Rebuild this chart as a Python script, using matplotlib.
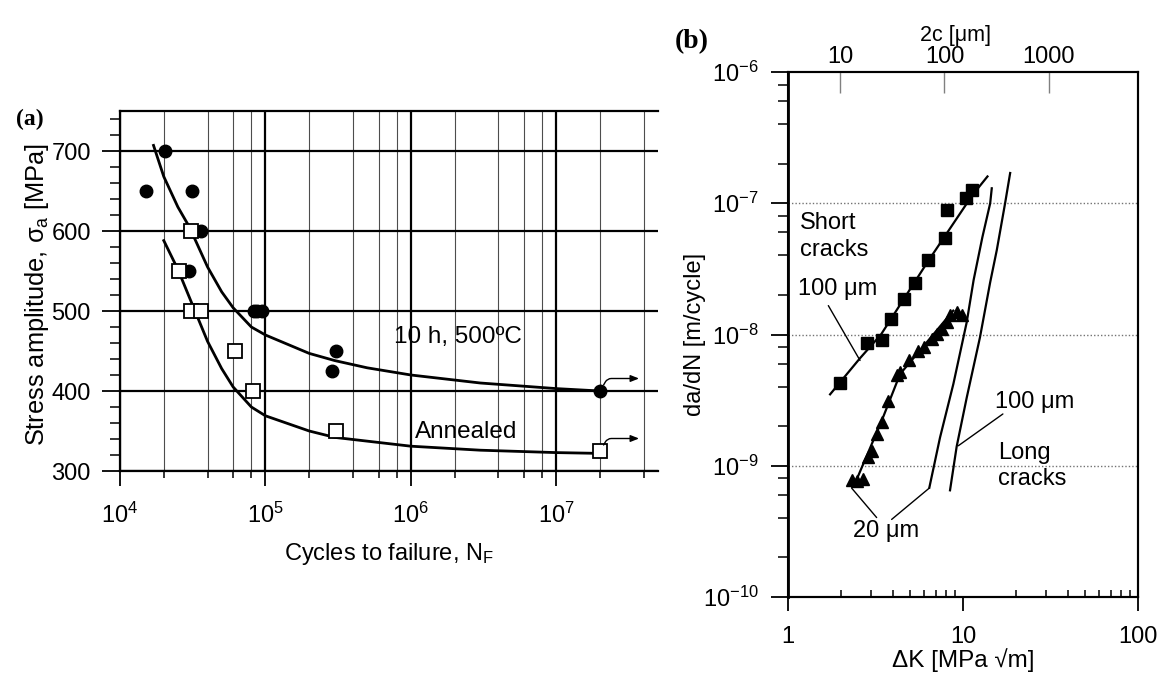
import matplotlib
matplotlib.use('Agg')
import matplotlib.pyplot as plt
from matplotlib.ticker import (LogLocator, MultipleLocator, FixedLocator,
                               NullFormatter, NullLocator, FixedFormatter)

plt.rcParams['font.family'] = ['Liberation Sans', 'DejaVu Sans']
plt.rcParams['mathtext.fontset'] = 'custom'
plt.rcParams['mathtext.rm'] = 'Liberation Sans'
plt.rcParams['mathtext.it'] = 'Liberation Sans:italic'
plt.rcParams['mathtext.bf'] = 'Liberation Sans:bold'
plt.rcParams['mathtext.sf'] = 'Liberation Sans'
plt.rcParams['axes.unicode_minus'] = False

FS = 17

# ---------------- (a) S-N data ----------------
hr_cycles = [1.52e4, 2.05e4, 3.12e4, 3.59e4, 2.98e4, 8.3e4, 8.8e4, 9.5e4, 3.05e5, 2.85e5]
hr_stress = [650, 700, 650, 600, 550, 500, 500, 500, 450, 425]
ann_cycles = [3.07e4, 2.55e4, 3.07e4, 3.63e4, 6.18e4, 8.2e4, 3.05e5]
ann_stress = [600, 550, 500, 500, 450, 400, 350]
runout_hr_cycles = [2.0e7]
runout_hr_stress = [400]
runout_ann_cycles = [2.0e7]
runout_ann_stress = [325]
hr_fit_cycles = [1.7e4, 2.0e4, 2.5e4, 3.0e4, 4.0e4, 5.0e4, 6.0e4, 8.0e4, 1.0e5,
                 2.0e5, 3.0e5, 5.0e5, 1.0e6, 3.0e6, 1.0e7, 2.0e7]
hr_fit_stress = [707, 668, 630, 605, 555, 524, 504, 480, 470,
                 447, 438, 429, 420, 410, 403, 400]
ann_fit_cycles = [2.0e4, 2.5e4, 3.0e4, 4.0e4, 5.0e4, 6.0e4, 8.0e4, 1.0e5,
                  2.0e5, 3.0e5, 1.0e6, 3.0e6, 1.0e7, 2.0e7]
ann_fit_stress = [588, 552, 517, 462, 428, 405, 380, 369,
                  350, 342, 331, 326, 323, 322]
a_xlim = (1e4, 5e7)
a_ylim = (300, 750)
a_yticks = [300, 400, 500, 600, 700]

# ---------------- (b) crack growth data ----------------
sq_dK = [1.98, 2.82, 3.43, 3.86, 4.6, 5.32, 6.28, 7.89, 8.07, 10.4, 11.3]
sq_dadN = [4.25e-9, 8.6e-9, 9.1e-9, 1.32e-8, 1.87e-8, 2.47e-8, 3.72e-8,
           5.43e-8, 8.95e-8, 1.09e-7, 1.26e-7]
tri_dK = [2.31, 2.47, 2.69, 2.88, 3.03, 3.21, 3.43, 3.74, 4.22, 4.37, 4.93,
          5.56, 5.99, 6.62, 7.13, 7.55, 8.07, 8.43, 9.2, 9.83]
tri_dadN = [7.8e-10, 7.6e-10, 7.9e-10, 1.16e-9, 1.3e-9, 1.75e-9, 2.14e-9,
            3.13e-9, 4.95e-9, 5.16e-9, 6.41e-9, 7.55e-9, 8.0e-9, 9.27e-9,
            1.01e-8, 1.1e-8, 1.24e-8, 1.4e-8, 1.48e-8, 1.4e-8]
sq_fit_dK = [1.74, 2.58, 3.4, 6.3, 11.3, 13.8]
sq_fit_dadN = [3.5e-9, 6.6e-9, 1.0e-8, 3.6e-8, 1.15e-7, 1.6e-7]
tri_fit_dK = [2.4, 3.43, 4.37, 5.67, 8.8]
tri_fit_dadN = [7.2e-10, 2.2e-9, 5.0e-9, 7.55e-9, 1.52e-8]
long20_dK = [6.42, 7.39, 8.81, 10.5, 11.5, 12.9, 14.3, 14.6]
long20_dadN = [6.8e-10, 1.64e-9, 4.2e-9, 1.24e-8, 2.6e-8, 5.5e-8, 1.0e-7, 1.3e-7]
long100_dK = [8.43, 9.2, 10.5, 12.5, 14.3, 15.6, 17.4, 18.6]
long100_dadN = [6.5e-10, 1.4e-9, 3.3e-9, 9.5e-9, 2.5e-8, 4.4e-8, 1.0e-7, 1.7e-7]
b_xlim = (1, 100)
b_ylim = (1e-10, 1e-6)
b_grid_levels = [1e-9, 1e-8, 1e-7]
top_lim = (3.18, 7110)
top_ticks = [10, 100, 1000]
top_labels = ['10', '100', '1000']

W, H = 1165, 686
fig = plt.figure(figsize=(W / 100, H / 100), dpi=100)

# ======================= panel (a) =======================
axA = fig.add_axes([120 / W, 1 - 471 / H, 538 / W, 360 / H])
axA.set_xscale('log')
axA.set_xlim(*a_xlim)
axA.set_ylim(*a_ylim)
axA.set_axisbelow(True)
axA.xaxis.set_major_locator(LogLocator(base=10, numticks=10))
axA.xaxis.set_minor_locator(LogLocator(base=10, subs=[2, 4, 6, 8], numticks=10))
axA.xaxis.set_minor_formatter(NullFormatter())
axA.yaxis.set_major_locator(FixedLocator(a_yticks))
axA.yaxis.set_minor_locator(MultipleLocator(20))
axA.grid(which='major', axis='both', color='black', lw=1.6)
axA.grid(which='minor', axis='x', color='0.3', lw=0.8)
axA.spines['right'].set_visible(False)
for s in ['left', 'bottom', 'top']:
    axA.spines[s].set_linewidth(1.6)
axA.tick_params(axis='y', which='major', direction='out', length=13, width=1.3,
                pad=8, labelsize=FS)
axA.tick_params(axis='y', which='minor', direction='out', length=7, width=1.1)
axA.tick_params(axis='x', which='major', direction='out', length=11, width=1.3,
                pad=12, labelsize=FS)
axA.tick_params(axis='x', which='minor', direction='out', length=5, width=1.1)

axA.plot(hr_fit_cycles, hr_fit_stress, color='black', lw=2.0, zorder=3)
axA.plot(ann_fit_cycles, ann_fit_stress, color='black', lw=2.0, zorder=3)
axA.plot(hr_cycles, hr_stress, 'o', ms=9, color='black', zorder=4)
axA.plot(ann_cycles, ann_stress, 's', ms=10, mfc='white', mec='black', mew=1.3, zorder=4)
axA.plot(runout_hr_cycles, runout_hr_stress, 'o', ms=9, color='black', zorder=4)
axA.plot(runout_ann_cycles, runout_ann_stress, 's', ms=10, mfc='white', mec='black',
         mew=1.3, zorder=4)
for xs, ys in [(runout_hr_cycles, runout_hr_stress), (runout_ann_cycles, runout_ann_stress)]:
    for x, y in zip(xs, ys):
        axA.annotate('', xy=(x, y), xycoords='data', xytext=(28, 9),
                     textcoords='offset points',
                     arrowprops=dict(arrowstyle='<|-,head_length=0.5,head_width=0.2',
                                     color='black', lw=1.0,
                                     connectionstyle='angle,angleA=0,angleB=60,rad=4',
                                     shrinkA=0, shrinkB=5), zorder=5)

axA.text(2.1e6, 467, '10 h, 500ºC', fontsize=17.5, ha='center', va='center')
axA.text(2.4e6, 349, 'Annealed', fontsize=17.5, ha='center', va='center')
axA.set_xlabel(r'Cycles to failure, N$_\mathrm{F}$', fontsize=FS)
axA.xaxis.set_label_coords(0.5, -0.195)
axA.set_ylabel(r'Stress amplitude, $\mathrm{\sigma}_\mathrm{a}$ [MPa]', fontsize=18.3)
axA.yaxis.set_label_coords(-0.128, 0.49)
fig.text(30 / W, 1 - 119 / H, '(a)', fontsize=17, fontweight='bold',
         family='Liberation Serif', ha='center', va='center')

# ======================= panel (b) =======================
axB = fig.add_axes([788 / W, 1 - 597 / H, 350 / W, 525 / H])
axB.set_xscale('log')
axB.set_yscale('log')
axB.set_xlim(*b_xlim)
axB.set_ylim(*b_ylim)
axB.xaxis.set_major_locator(FixedLocator([1, 10, 100]))
axB.xaxis.set_major_formatter(FixedFormatter(['1', '10', '100']))
axB.xaxis.set_minor_locator(LogLocator(base=10, subs=[2, 3, 4, 5, 6, 7, 8, 9], numticks=10))
axB.xaxis.set_minor_formatter(NullFormatter())
axB.yaxis.set_major_locator(LogLocator(base=10, numticks=10))
axB.yaxis.set_minor_locator(LogLocator(base=10, subs=[2, 4, 6, 8], numticks=10))
axB.yaxis.set_minor_formatter(NullFormatter())
for lev in b_grid_levels:
    axB.axhline(lev, color='0.45', lw=1.0, ls=(0, (1, 1.5)), zorder=1)
for s in axB.spines.values():
    s.set_linewidth(1.5)
axB.spines['left'].set_linewidth(2.0)
axB.tick_params(axis='x', which='major', direction='out', length=10, width=1.3,
                pad=11, labelsize=FS)
axB.tick_params(axis='x', which='minor', direction='in', length=5, width=1.1)
axB.tick_params(axis='y', which='major', direction='out', length=12, width=1.3,
                pad=9, labelsize=FS)
axB.tick_params(axis='y', which='minor', direction='out', length=7, width=1.1)

axB.plot(sq_fit_dK, sq_fit_dadN, color='black', lw=1.6, zorder=3)
axB.plot(tri_fit_dK, tri_fit_dadN, color='black', lw=1.6, zorder=3)
axB.plot(long20_dK, long20_dadN, color='black', lw=1.6, zorder=3)
axB.plot(long100_dK, long100_dadN, color='black', lw=1.6, zorder=3)
axB.plot(sq_dK, sq_dadN, 's', ms=8, color='black', zorder=4)
axB.plot(tri_dK, tri_dadN, '^', ms=8.5, color='black', zorder=4)

axB.text(1.17, 5.6e-8, 'Short\ncracks', fontsize=FS, ha='left', va='center',
         linespacing=1.3)
axB.text(1.14, 2.21e-8, '100 μm', fontsize=FS, ha='left', va='center')
axB.annotate('', xy=(2.58, 6.34e-9), xytext=(1.70, 1.66e-8),
             arrowprops=dict(arrowstyle='-', lw=1.0, color='black',
                             shrinkA=0, shrinkB=0))
axB.text(2.35, 3.19e-10, '20 μm', fontsize=FS, ha='left', va='center')
axB.annotate('', xy=(2.31, 6.76e-10), xytext=(3.21, 4.03e-10),
             arrowprops=dict(arrowstyle='-', lw=1.0, color='black',
                             shrinkA=0, shrinkB=0))
axB.annotate('', xy=(6.42, 6.76e-10), xytext=(3.91, 3.9e-10),
             arrowprops=dict(arrowstyle='-', lw=1.0, color='black',
                             shrinkA=0, shrinkB=0))
axB.text(15.2, 3.04e-9, '100 μm', fontsize=FS, ha='left', va='center')
axB.annotate('', xy=(9.4, 1.42e-9), xytext=(16.9, 2.48e-9),
             arrowprops=dict(arrowstyle='-', lw=1.0, color='black',
                             shrinkA=0, shrinkB=0))
axB.text(15.85, 1.0e-9, 'Long\ncracks', fontsize=FS, ha='left', va='center',
         linespacing=1.25)

axB.set_xlabel('ΔK [MPa √m]', fontsize=17.5)
axB.xaxis.set_label_coords(0.5, -0.098)
axB.set_ylabel('da/dN [m/cycle]', fontsize=FS)
axB.yaxis.set_label_coords(-0.235, 0.5)

axT = axB.twiny()
axT.set_xscale('log')
axT.set_xlim(*top_lim)
axT.xaxis.set_major_locator(FixedLocator(top_ticks))
axT.xaxis.set_major_formatter(FixedFormatter(top_labels))
axT.xaxis.set_minor_locator(NullLocator())
axT.tick_params(axis='x', which='major', direction='in', length=15, width=1.0,
                color='0.5', pad=3, labelsize=FS)
axT.set_xlabel('2c [μm]', fontsize=15.5)
axT.xaxis.set_label_coords(0.48, 1.06)
for s in axT.spines.values():
    s.set_linewidth(1.5)

fig.text(692 / W, 1 - 42 / H, '(b)', fontsize=20, fontweight='bold',
         family='Liberation Serif', ha='center', va='center')

fig.savefig('out.png', dpi=100)
